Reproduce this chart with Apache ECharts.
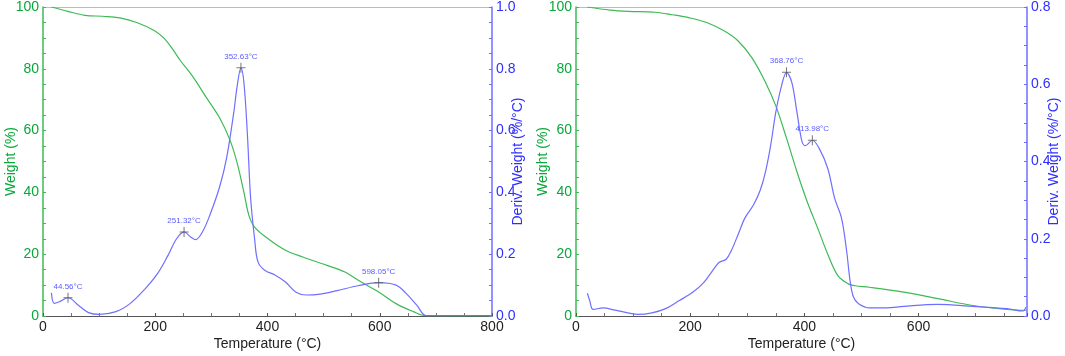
<!DOCTYPE html>
<html>
<head>
<meta charset="utf-8">
<script src="https://cdn.jsdelivr.net/npm/echarts@6/dist/echarts.min.js"></script>
<style>html,body{margin:0;padding:0;background:#fff;}#c{width:1065px;height:356px;}</style>
</head>
<body>
<div id="c"></div>
<script>
// ---- Left panel data ----
const leftTgaTemp   = [15, 44, 75, 106, 137, 167, 198, 215, 230, 245, 266, 290, 315, 333, 346, 358, 367, 377, 401, 432, 463, 506, 537, 567, 598, 629, 660, 681, 720, 800];
const leftTgaWeight = [100, 98.6, 97.3, 97.0, 96.5, 95.0, 92.4, 90.0, 86.6, 82.6, 77.7, 71.0, 64.0, 57.0, 49.5, 40.0, 32.5, 28.8, 25.0, 21.3, 19.1, 16.4, 14.3, 11.0, 7.8, 4.0, 1.4, 0.1, 0.05, 0.0];
const leftDtgTemp   = [15, 20, 29, 44.56, 63, 81, 100, 130, 155, 180, 204, 223, 238, 251.32, 263, 272, 284, 297, 315, 327, 340, 346, 352.63, 358, 364, 370, 377, 383, 395, 414, 432, 450, 469, 494, 524, 561, 598.05, 629, 647, 666, 683, 740, 800];
const leftDtg       = [0.075, 0.041, 0.046, 0.059, 0.035, 0.011, 0.005, 0.014, 0.040, 0.084, 0.137, 0.197, 0.250, 0.272, 0.256, 0.247, 0.272, 0.325, 0.420, 0.510, 0.660, 0.745, 0.803, 0.755, 0.594, 0.380, 0.250, 0.175, 0.148, 0.132, 0.110, 0.078, 0.068, 0.071, 0.082, 0.098, 0.108, 0.100, 0.073, 0.035, 0.001, 0.001, 0.001];
const leftPeakTemp  = [44.56, 251.32, 352.63, 598.05];
const leftPeakDtg   = [0.059, 0.272, 0.803, 0.108];

// ---- Right panel data ----
const rightTgaTemp   = [20, 60, 91, 139, 169, 199, 230, 260, 284, 308, 332, 350, 369, 387, 405, 423, 441, 459, 477, 489, 514, 574, 634, 695, 755, 788];
const rightTgaWeight = [100, 99.0, 98.6, 98.3, 97.5, 96.5, 94.9, 92.2, 89.0, 83.6, 75.6, 68.0, 57.4, 46.7, 37.0, 28.6, 20.0, 13.0, 10.4, 9.8, 9.3, 7.7, 5.6, 3.4, 2.1, 1.8];
const rightDtgTemp   = [20, 24, 30, 48, 66, 91, 109, 133, 157, 181, 205, 224, 239, 251, 263, 272, 284, 296, 311, 323, 332, 341, 350, 360, 368.76, 378, 387, 396, 402, 413.98, 426, 441, 453, 465, 474, 480, 486, 495, 514, 544, 574, 634, 695, 755, 783, 788];
const rightDtg       = [0.059, 0.040, 0.017, 0.021, 0.016, 0.008, 0.004, 0.008, 0.019, 0.040, 0.062, 0.087, 0.117, 0.139, 0.147, 0.169, 0.211, 0.254, 0.288, 0.327, 0.374, 0.442, 0.528, 0.596, 0.631, 0.605, 0.528, 0.451, 0.441, 0.455, 0.434, 0.382, 0.305, 0.254, 0.169, 0.092, 0.049, 0.032, 0.021, 0.021, 0.025, 0.030, 0.025, 0.019, 0.013, 0.023];
const rightPeakTemp  = [368.76, 413.98];
const rightPeakDtg   = [0.631, 0.455];

const xTicksLeft  = [0, 200, 400, 600, 800];
const xTicksRight = [0, 200, 400, 600];

const zip = (a, b) => a.map((v, i) => [v, b[i]]);
const GREEN_TXT = '#08a83a';
const GREEN_LN  = '#3dba55';
const BLUE_TXT  = '#2f2fff';
const BLUE_LN   = '#6f6fff';
const FONT = 'Liberation Sans, Arial, sans-serif';
const crossPath = 'path://M0,4.5H9V5.5H0Z M4,0H5V10H4Z';

function xAxisBottom(gridIndex, max, ticks) {
  return {
    type: 'value', gridIndex, min: 0, max, interval: 200, position: 'bottom',
    name: 'Temperature (°C)', nameLocation: 'middle', nameGap: 21, nameMoveOverlap: false,
    nameTextStyle: { color: '#222', fontSize: 14, fontFamily: FONT },
    axisLine: { show: true, onZero: false, lineStyle: { color: '#555', width: 1 } },
    axisTick: { show: true, inside: true, length: 3, lineStyle: { color: '#555' } },
    minorTick: { show: true, splitNumber: 4, length: 3, lineStyle: { color: '#777' } },
    axisLabel: { color: '#222', fontSize: 14, fontFamily: FONT, margin: 4,
      formatter: v => ticks.includes(v) ? String(v) : '' },
    splitLine: { show: false }
  };
}
function xAxisTop(gridIndex, max) {
  return {
    type: 'value', gridIndex, min: 0, max, position: 'top',
    axisLine: { show: true, onZero: false, lineStyle: { color: '#bbb', width: 1 } },
    axisTick: { show: false }, axisLabel: { show: false }, splitLine: { show: false }
  };
}
function yAxisLeft(gridIndex, nameGap) {
  return {
    type: 'value', gridIndex, min: 0, max: 100, interval: 20, position: 'left',
    name: 'Weight (%)', nameLocation: 'middle', nameGap, nameMoveOverlap: false,
    nameTextStyle: { color: GREEN_TXT, fontSize: 14, fontFamily: FONT },
    axisLine: { show: true, onZero: false, lineStyle: { color: GREEN_LN, width: 1.5 } },
    axisTick: { show: true, inside: true, length: 3, lineStyle: { color: GREEN_LN } },
    minorTick: { show: true, splitNumber: 4, length: 3, lineStyle: { color: GREEN_LN } },
    axisLabel: { color: GREEN_TXT, fontSize: 14, fontFamily: FONT, margin: 4 },
    splitLine: { show: false }
  };
}
function yAxisRight(gridIndex, max, nameGap) {
  return {
    type: 'value', gridIndex, min: 0, max, interval: 0.2, position: 'right',
    name: 'Deriv. Weight (%/°C)', nameLocation: 'middle', nameGap, nameMoveOverlap: false,
    nameTextStyle: { color: BLUE_TXT, fontSize: 14, fontFamily: FONT },
    axisLine: { show: true, onZero: false, lineStyle: { color: BLUE_LN, width: 1.5 } },
    axisTick: { show: true, inside: true, length: 3, lineStyle: { color: BLUE_LN } },
    minorTick: { show: true, splitNumber: 4, length: 3, lineStyle: { color: BLUE_LN } },
    axisLabel: { color: BLUE_TXT, fontSize: 14, fontFamily: FONT, margin: 4,
      formatter: v => v.toFixed(1) },
    splitLine: { show: false }
  };
}
function peaks(xAxisIndex, yAxisIndex, temps, vals) {
  return {
    type: 'scatter', xAxisIndex, yAxisIndex, z: 5,
    symbol: crossPath, symbolSize: [9, 10],
    itemStyle: { color: '#555' },
    label: { show: true, position: 'top', distance: 2, color: BLUE_TXT, fontSize: 8, fontFamily: FONT,
      formatter: p => p.value[0].toFixed(2) + '°C' },
    data: zip(temps, vals)
  };
}
function line(xAxisIndex, yAxisIndex, xs, ys, color) {
  return {
    type: 'line', xAxisIndex, yAxisIndex, showSymbol: false, smooth: 0.35,
    lineStyle: { color, width: 1.2 }, data: zip(xs, ys), z: 3
  };
}

const chart = echarts.init(document.getElementById('c'), null, { renderer: 'canvas' });
chart.setOption({
  animation: false,
  backgroundColor: '#fff',
  grid: [
    { left: 43, top: 7, width: 449, height: 311 },
    { left: 576, top: 7, width: 451, height: 312 }
  ],
  xAxis: [
    xAxisBottom(0, 800, xTicksLeft),
    xAxisTop(0, 800),
    xAxisBottom(1, 790, xTicksRight),
    xAxisTop(1, 790)
  ],
  yAxis: [
    yAxisLeft(0, 25),
    yAxisRight(0, 1.0, 19),
    yAxisLeft(1, 26),
    yAxisRight(1, 0.8, 20)
  ],
  series: [
    line(0, 0, leftTgaTemp, leftTgaWeight, GREEN_LN),
    line(0, 1, leftDtgTemp, leftDtg, BLUE_LN),
    peaks(0, 1, leftPeakTemp, leftPeakDtg),
    line(2, 2, rightTgaTemp, rightTgaWeight, GREEN_LN),
    line(2, 3, rightDtgTemp, rightDtg, BLUE_LN),
    peaks(2, 3, rightPeakTemp, rightPeakDtg)
  ]
});
</script>
</body>
</html>
